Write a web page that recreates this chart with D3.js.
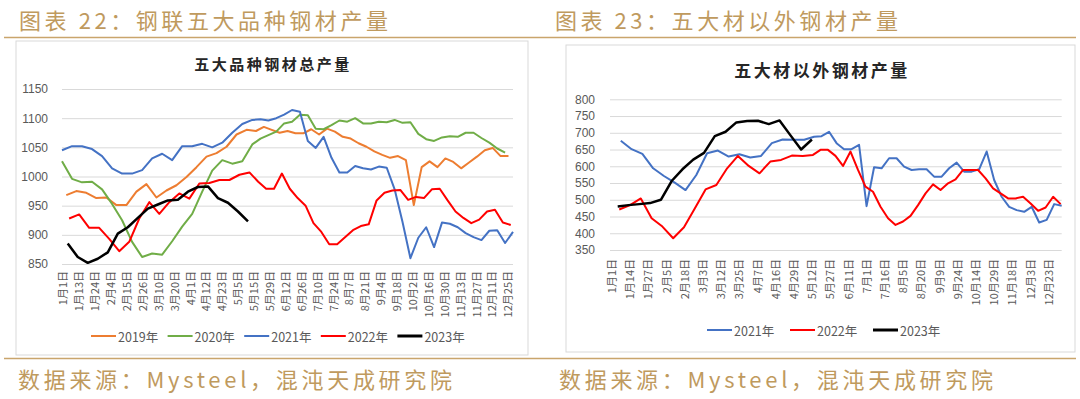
<!DOCTYPE html>
<html>
<head>
<meta charset="utf-8">
<script src="https://cdn.jsdelivr.net/npm/d3@7/dist/d3.min.js"></script>
<style>
  body { margin: 0; background: #fff; }
  svg { display: block; }
</style>
</head>
<body>
<div id="container"></div>
<script>
/* DATA */
const leftLabels = ["1月1日","1月13日","1月24日","2月4日","2月15日","2月26日","3月10日","3月20日","4月1日","4月12日","4月23日","5月5日","5月15日","5月29日","6月12日","6月26日","7月10日","7月24日","8月7日","8月21日","9月4日","9月18日","10月2日","10月16日","10月30日","11月13日","11月27日","12月11日","12月25日"];
const rightLabels = ["1月1日","1月14日","1月27日","2月5日","2月18日","3月3日","3月12日","3月25日","4月7日","4月16日","4月29日","5月12日","5月27日","6月11日","7月1日","7月16日","8月5日","8月20日","9月9日","9月24日","10月14日","10月29日","11月18日","12月3日","12月23日"];
const leftTicks = [850, 900, 950, 1000, 1050, 1100, 1150];
const rightTicks = [350, 400, 450, 500, 550, 600, 650, 700, 750, 800];

// 五大品种钢材总产量, weekly values, first week date
const total2019 = [968,975,972,963,964,951,951,974,987,964,976,985,999,1016,1034,1040,1051,1072,1080,1078,1085,1080,1075,1078,1074,1074,1081,1072,1082,1077,1068,1065,1057,1051,1043,1037,1032,1035,1028,951,1016,1026,1016,1031,1025,1014,1024,1034,1045,1049,1035,1035];
const total2020 = [1026,996,990,991,978,953,925,888,862,868,866,889,914,936,974,1010,1028,1022,1026,1055,1065,1071,1077,1091,1094,1106,1105,1082,1081,1088,1096,1094,1100,1091,1091,1094,1093,1097,1092,1093,1073,1064,1061,1067,1069,1068,1075,1075,1066,1058,1048,1041];
const total2021 = [1045,1052,1052,1047,1035,1014,1005,1005,1011,1031,1039,1028,1052,1052,1056,1050,1058,1075,1090,1097,1098,1096,1100,1106,1114,1111,1061,1049,1068,1032,1007,1007,1018,1014,1012,1017,1015,978,922,860,895,913,879,921,919,913,903,896,891,907,908,886,905];
const total2022 = [928,935,912,912,893,872,888,928,956,936,956,971,962,988,989,994,994,1003,1007,991,979,979,1005,979,963,950,920,905,884,884,896,908,915,918,959,972,976,977,960,965,963,978,979,959,940,929,920,926,940,943,921,917];
const total2023 = [885,862,852,859,870,902,913,929,945,952,959,960,974,982,983,963,955,940,923];

// 五大材以外钢材产量
const other2021 = [676,651,637,594,571,551,529,574,639,647,629,636,626,631,669,680,679,679,688,690,703,669,651,651,664,481,597,594,624,624,599,589,591,591,569,569,594,611,584,584,591,644,559,509,479,469,464,479,432,440,487,482];
const other2022 = [471,484,504,445,420,385,418,474,531,544,594,631,601,579,614,619,632,631,634,649,649,631,601,644,589,539,524,479,445,425,435,452,484,519,546,529,549,561,589,589,589,564,534,519,504,504,509,489,467,477,509,487];
const other2023 = [480,484,487,490,500,556,591,620,640,690,703,731,735,736,726,737,693,650,680];

const leftSeries = [
  { name: "2019年", start: "1月4日", values: total2019 },
  { name: "2020年", start: "1月1日", values: total2020 },
  { name: "2021年", start: "1月1日", values: total2021 },
  { name: "2022年", start: "1月6日", values: total2022 },
  { name: "2023年", start: "1月5日", values: total2023 },
];
const rightSeries = [
  { name: "2021年", start: "1月8日", values: other2021 },
  { name: "2022年", start: "1月7日", values: other2022 },
  { name: "2023年", start: "1月6日", values: other2023 },
];

/* STYLE */
const colors = { "2019年": "#ED7D31", "2020年": "#70AD47", "2021年": "#4472C4", "2022年": "#FF0000", "2023年": "#000000" };
const gold = "#BF9A5E";
const cjk = "'Noto Sans CJK SC', sans-serif";
const num = "'Liberation Sans', 'Noto Sans CJK SC', sans-serif";

// day of year for "m月d日"
const dayOf = s => {
  const [m, d] = s.match(/\d+/g).map(Number);
  return d3.timeDay.count(new Date(2019, 0, 1), new Date(2019, m - 1, d));
};

const svg = d3.select("#container").append("svg")
  .attr("width", 1080)
  .attr("height", 399);

// HEADERS AND FOOTERS
const page = [
  { t: "图表 22：钢联五大品种钢材产量", x: 19, y: 19, len: 369 },
  { t: "图表 23：五大材以外钢材产量", x: 555, y: 19, len: 343 },
  { t: "数据来源：Mysteel，混沌天成研究院", x: 18, y: 378, len: 434 },
  { t: "数据来源：Mysteel，混沌天成研究院", x: 559, y: 378, len: 434 },
];
svg.selectAll("text.page")
  .data(page)
  .join("text")
  .attr("class", "page")
  .attr("x", d => d.x)
  .attr("y", d => d.y)
  .attr("dominant-baseline", "central")
  .attr("textLength", d => d.len)
  .attr("lengthAdjust", "spacing")
  .attr("fill", gold)
  .style("font-family", cjk)
  .style("font-size", "22px")
  .text(d => d.t);

svg.append("line").attr("x1", 4).attr("x2", 1076).attr("y1", 37.5).attr("y2", 37.5)
  .attr("stroke", "#C9A56C").attr("stroke-width", 1.5);
svg.append("line").attr("x1", 4).attr("x2", 1076).attr("y1", 358.5).attr("y2", 358.5)
  .attr("stroke", "#C9A56C").attr("stroke-width", 1.5);

function drawChart(cfg) {
  const g = svg.append("g");

  g.append("rect")
    .attr("x", cfg.box[0]).attr("y", cfg.box[1])
    .attr("width", cfg.box[2]).attr("height", cfg.box[3])
    .attr("fill", "#fff").attr("stroke", "#D9D9D9");

  g.append("text")
    .attr("x", cfg.titleX).attr("y", cfg.titleY)
    .attr("text-anchor", "middle")
    .attr("dominant-baseline", "central")
    .attr("fill", "#262626")
    .style("font-family", cjk)
    .style("font-weight", "bold")
    .style("font-size", cfg.titleSize + "px")
    .style("letter-spacing", cfg.titleSpacing + "px")
    .text(cfg.title);

  const y = d3.scaleLinear().domain(d3.extent(cfg.ticks)).range([cfg.bottom, cfg.top]);

  // category labels
  const xLab = d3.scalePoint().domain(cfg.labels).range(cfg.labelRange);

  // weekly points placed on a time-of-year scale
  const xDay = d3.scaleLinear()
    .domain([0, dayOf(cfg.pivot), dayOf("12月31日")])
    .range([cfg.left, xLab(cfg.pivot), cfg.right]);

  const yAxis = g.append("g")
    .attr("transform", `translate(${cfg.left},0)`)
    .call(d3.axisLeft(y).tickValues(cfg.ticks).tickFormat(d3.format("d"))
      .tickSize(-(cfg.right - cfg.left)).tickPadding(cfg.yPad));
  yAxis.select(".domain").remove();
  yAxis.selectAll(".tick line").attr("stroke", "#D9D9D9").attr("stroke-width", 1);
  yAxis.selectAll(".tick text")
    .attr("fill", "#595959")
    .style("font-family", num)
    .style("font-size", "12px");

  const xAxis = g.append("g")
    .attr("transform", `translate(0,${cfg.bottom})`)
    .call(d3.axisBottom(xLab).tickSize(0));
  xAxis.select(".domain").remove();
  xAxis.selectAll(".tick text")
    .attr("transform", "rotate(-90)")
    .attr("text-anchor", "end")
    .attr("x", -cfg.xPad)
    .attr("y", 0)
    .attr("dy", "0.35em")
    .attr("fill", "#595959")
    .style("font-family", cjk)
    .style("font-size", "11px");

  const line = d3.line()
    .x(d => xDay(d.day))
    .y(d => y(d.v));

  g.selectAll("path.series")
    .data(cfg.series)
    .join("path")
    .attr("class", "series")
    .attr("fill", "none")
    .attr("stroke", d => colors[d.name])
    .attr("stroke-width", d => d.name === "2023年" ? 2.5 : 2)
    .attr("stroke-linejoin", "round")
    .attr("d", d => line(d.values.map((v, i) => ({ day: dayOf(d.start) + 7 * i, v }))));

  // legend
  const leg = g.selectAll("g.legend")
    .data(cfg.series)
    .join("g")
    .attr("class", "legend")
    .attr("transform", (d, i) => `translate(${cfg.legendX + i * cfg.legendStep},${cfg.legendY})`);
  leg.append("line")
    .attr("x1", 0).attr("x2", 25)
    .attr("stroke", d => colors[d.name])
    .attr("stroke-width", d => d.name === "2023年" ? 3 : 2);
  leg.append("text")
    .attr("x", 27)
    .attr("dominant-baseline", "central")
    .attr("fill", "#595959")
    .style("font-family", cjk)
    .style("font-size", "12.5px")
    .text(d => d.name);
}

drawChart({
  box: [16, 41, 512, 314],
  title: "五大品种钢材总产量", titleX: 273, titleY: 63, titleSize: 15, titleSpacing: 2.5,
  ticks: leftTicks, top: 89, bottom: 264, left: 62, right: 513, yPad: 14,
  labels: leftLabels, labelRange: [63, 508], pivot: "5月15日", xPad: 7,
  series: leftSeries, legendX: 91, legendY: 336, legendStep: 76.6,
});

drawChart({
  box: [566, 45, 509, 307],
  title: "五大材以外钢材产量", titleX: 822, titleY: 69, titleSize: 17, titleSpacing: 2.5,
  ticks: rightTicks, top: 99.3, bottom: 250, left: 610, right: 1061.7, yPad: 15,
  labels: rightLabels, labelRange: [611.7, 1048.5], pivot: "5月12日", xPad: 9,
  series: rightSeries, legendX: 707, legendY: 330, legendStep: 83,
});
</script>
</body>
</html>
